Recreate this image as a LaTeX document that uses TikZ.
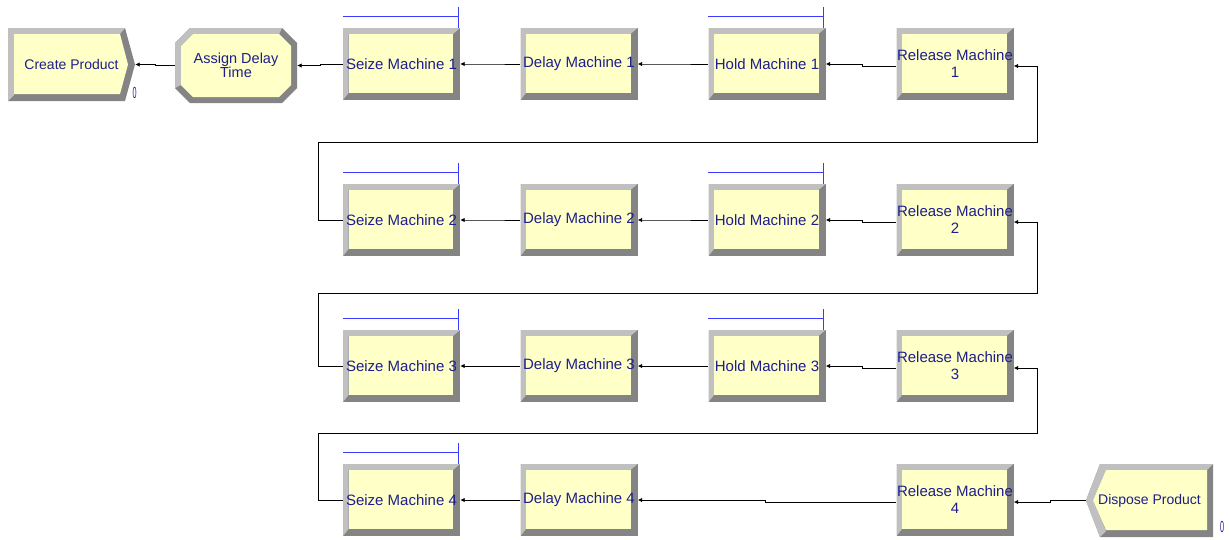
\documentclass[tikz,border=0pt]{standalone}
\usepackage{fontspec}
\setmainfont{Liberation Sans}
\usepackage{tikz}
\usetikzlibrary{arrows.meta,calc}

\definecolor{boxfill}{RGB}{255,255,200}
\definecolor{bevlite}{RGB}{192,192,192}
\definecolor{bevdark}{RGB}{132,132,132}
\definecolor{labelblue}{RGB}{30,30,140}
\definecolor{resblue}{RGB}{60,60,255}

% bevelled process block: name, x, y, text
\newcommand{\procbox}[4]{%
  \fill[bevdark] (#2-58.5,#3-36) rectangle (#2+58.5,#3+36);
  \fill[bevlite] (#2-58.5,#3+36) -- (#2-58.5,#3-36) -- (#2+58.5,#3-36)
    -- (#2+51.5,#3-30) -- (#2-53,#3-30) -- (#2-53,#3+29) -- cycle;
  \fill[boxfill] (#2-53,#3-30) rectangle (#2+51.5,#3+29);
  \node[modlabel] (#1) at (#2,#3) {#4};
}

\begin{document}
\begin{tikzpicture}[x=1pt,y=-1pt,
  modlabel/.style={rectangle, minimum width=117pt, minimum height=72pt, inner sep=0pt,
    align=center, text=labelblue, font=\fontsize{15}{17}\selectfont},
  conn/.style={draw=black, line width=0.8pt, {Latex[length=4.5pt,width=4.5pt]}-},
  resbar/.style={draw=resblue, line width=0.9pt},
  countlbl/.style={text=labelblue, inner sep=0pt, xscale=0.45, font=\fontsize{16}{16}\selectfont}]

\useasboundingbox (0,0) rectangle (1230,539);

% create
\fill[bevdark] (8,28) -- (125,28) -- (135,64.5) -- (125,101) -- (8,101) -- cycle;
\fill[bevlite] (8,101) -- (8,28) -- (125,28) -- (120,34) -- (14,34) -- (14,95) -- cycle;
\fill[boxfill] (14,34) -- (120,34) -- (128,64.5) -- (120,94) -- (14,94) -- cycle;
\node[modlabel, minimum width=127pt, minimum height=73pt, font=\fontsize{14}{16}\selectfont] (create) at (71.5,64.5) {Create Product};
\node[countlbl] (createcount) at (134.5,93) {0};

% assign
\fill[bevdark] (190,28) -- (282,28) -- (297,43) -- (297,88) -- (282,103) -- (190,103) -- (175,88) -- (175,43) -- cycle;
\fill[bevlite] (175,88) -- (175,43) -- (190,28) -- (282,28) -- (279,34) -- (193,34) -- (181,46) -- (181,85) -- cycle;
\fill[boxfill] (193,34) -- (279,34) -- (291,46) -- (291,85) -- (279,97) -- (193,97) -- (181,85) -- (181,46) -- cycle;
\node[modlabel, minimum width=122pt, minimum height=75pt, font=\fontsize{14.5}{14}\selectfont] (assign) at (236,65.5) {Assign Delay\\Time};

% rows
\procbox{seize1}{401.5}{64}{Seize Machine 1}
\procbox{delay1}{579}{64}{Delay Machine 1}
\procbox{hold1}{767}{64}{Hold Machine 1}
\procbox{rel1}{955}{64}{Release Machine\\1}

\procbox{seize2}{401.5}{220}{Seize Machine 2}
\procbox{delay2}{579}{220}{Delay Machine 2}
\procbox{hold2}{767}{220}{Hold Machine 2}
\procbox{rel2}{955}{220}{Release Machine\\2}

\procbox{seize3}{401.5}{366}{Seize Machine 3}
\procbox{delay3}{579}{366}{Delay Machine 3}
\procbox{hold3}{767}{366}{Hold Machine 3}
\procbox{rel3}{955}{366}{Release Machine\\3}

\procbox{seize4}{401.5}{500}{Seize Machine 4}
\procbox{delay4}{579}{500}{Delay Machine 4}
\procbox{rel4}{955}{500}{Release Machine\\4}

% dispose
\fill[bevdark] (1100,464) -- (1213,464) -- (1213,537) -- (1100,537) -- (1086,500.5) -- cycle;
\fill[bevlite] (1100,537) -- (1086,500.5) -- (1100,464) -- (1213,464) -- (1207,470) -- (1106,470) -- (1093,500.5) -- (1106,531) -- cycle;
\fill[boxfill] (1106,470) -- (1207,470) -- (1207,530) -- (1106,530) -- (1093,500.5) -- cycle;
\node[modlabel, minimum width=127pt, minimum height=73pt, font=\fontsize{14}{16}\selectfont] (dispose) at (1149.5,500.5) {Dispose Product};
\node[countlbl] (disposecount) at (1222,527) {0};

% resource bars
\draw[resbar] ([yshift=11pt]seize1.north west) -- ++(115,0) ([xshift=-2pt,yshift=21pt]seize1.north east) -- ++(0,21);
\draw[resbar] ([yshift=11pt]hold1.north west) -- ++(115,0) ([xshift=-2pt,yshift=21pt]hold1.north east) -- ++(0,21);
\draw[resbar] ([yshift=11pt]seize2.north west) -- ++(115,0) ([xshift=-2pt,yshift=21pt]seize2.north east) -- ++(0,21);
\draw[resbar] ([yshift=11pt]hold2.north west) -- ++(115,0) ([xshift=-2pt,yshift=21pt]hold2.north east) -- ++(0,21);
\draw[resbar] ([yshift=11pt]seize3.north west) -- ++(115,0) ([xshift=-2pt,yshift=21pt]seize3.north east) -- ++(0,21);
\draw[resbar] ([yshift=11pt]hold3.north west) -- ++(115,0) ([xshift=-2pt,yshift=21pt]hold3.north east) -- ++(0,21);
\draw[resbar] ([yshift=11pt]seize4.north west) -- ++(115,0) ([xshift=-2pt,yshift=21pt]seize4.north east) -- ++(0,21);

% connectors
\draw[conn] (create.east) -- ++(20,0) |- (assign.west);
\draw[conn] (assign.east) -- ++(23,0) |- (seize1.west);
\draw[conn] (seize1.east) -- ++(30,0) |- (delay1.west);
\draw[conn] (delay1.east) -- ++(36,0) |- (hold1.west);
\draw[conn] (hold1.east) -- ++(37,0) |- ([yshift=-2pt]rel1.west);
\draw[conn] ([yshift=-2pt]rel1.east) -- ++(24,0) |- (318,142) |- (seize2.west);

\draw[conn] (seize2.east) -- ++(30,0) |- (delay2.west);
\draw[conn] (delay2.east) -- ++(36,0) |- (hold2.west);
\draw[conn] (hold2.east) -- ++(37,0) |- ([yshift=-2pt]rel2.west);
\draw[conn] ([yshift=-2pt]rel2.east) -- ++(24,0) |- (318,293) |- (seize3.west);

\draw[conn] (seize3.east) -- ++(30,0) |- (delay3.west);
\draw[conn] (delay3.east) -- ++(36,0) |- (hold3.west);
\draw[conn] (hold3.east) -- ++(37,0) |- ([yshift=-2pt]rel3.west);
\draw[conn] ([yshift=-2pt]rel3.east) -- ++(24,0) |- (318,433) |- (seize4.west);

\draw[conn] (seize4.east) -- ++(30,0) |- (delay4.west);
\draw[conn] (delay4.east) -- ++(128,0) |- ([yshift=-2pt]rel4.west);
\draw[conn] ([yshift=-2pt]rel4.east) -- ++(37,0) |- (dispose.west);

\end{tikzpicture}
\end{document}
